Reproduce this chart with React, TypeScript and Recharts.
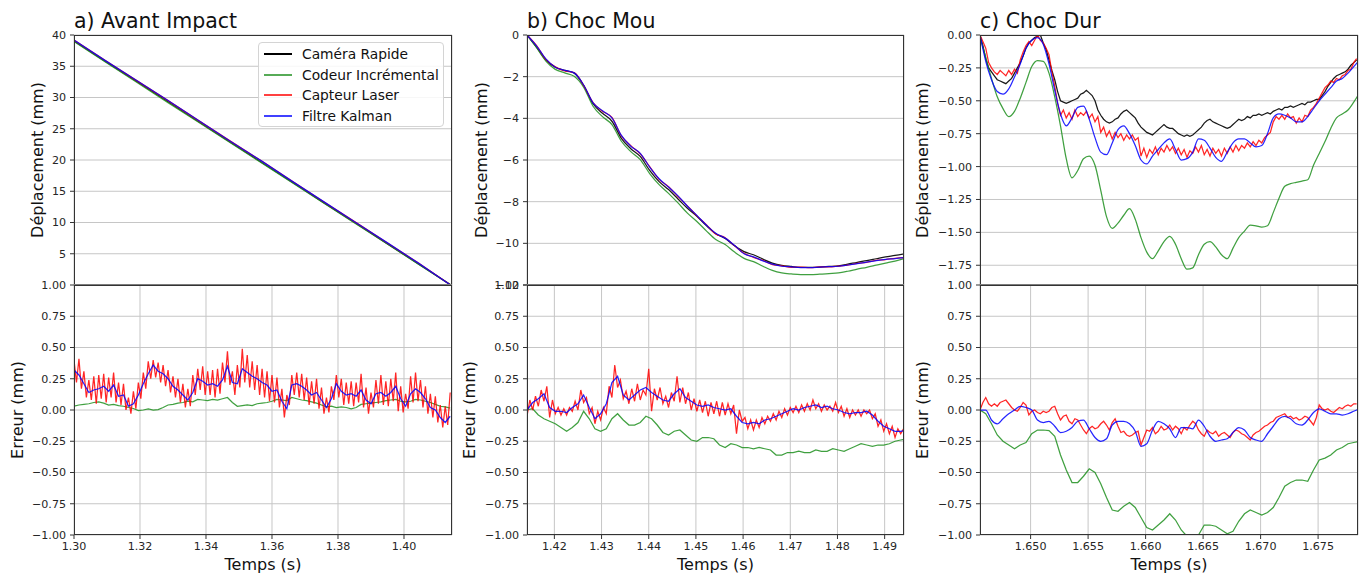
import React from 'react';
import { CartesianGrid, Line, LineChart, XAxis, YAxis } from 'recharts';

const FONT = '"DejaVu Sans", Verdana, sans-serif';

const NAMES = ['Caméra Rapide', 'Codeur Incrémental', 'Capteur Laser', 'Filtre Kalman'];
const COLORS = ['#000000', '#1f8f1f', '#ff0000', '#0000ff'];

// each series is sampled on a regular time grid: [start (s), step (s)]
const A_DEP_GRID = [1.3, 0.0095];
const A_DEP_CAM = [39.05, 35.78, 32.58, 29.33, 26.05, 22.8, 19.57, 16.31, 13.06, 9.83, 6.58, 3.33, 0.08];
const A_DEP_COD = [38.95, 35.7, 32.45, 29.18, 25.98, 22.74, 19.5, 16.26, 13.0, 9.78, 6.55, 3.3, 0.06];
const A_DEP_LAS = [39.2, 35.92, 32.7, 29.5, 26.22, 22.98, 19.8, 16.48, 13.2, 9.98, 6.72, 3.48, 0.05];
const A_DEP_KAL = [39.18, 35.9, 32.72, 29.52, 26.24, 22.96, 19.78, 16.46, 13.22, 9.96, 6.74, 3.46, 0.03];

const A_ERR_GRID = [1.3, 0.0015];
const A_ERR_LAS_GRID = [1.3, 0.00075];
const A_ERR_COD = [
  0.03, 0.04, 0.045, 0.05, 0.06, 0.065, 0.055, 0.04, 0.045, 0.035, 0.03, 0.02, 0.012, -0.005, 0.0, 0.008,
  0.0, 0.003, 0.02, 0.04, 0.045, 0.055, 0.06, 0.07, 0.065, 0.085, 0.08, 0.075, 0.085, 0.08, 0.09, 0.1,
  0.06, 0.03, 0.035, 0.04, 0.035, 0.05, 0.055, 0.06, 0.07, 0.085, 0.08, 0.075, 0.1, 0.09, 0.08, 0.075,
  0.065, 0.055, 0.04, 0.025, 0.03, 0.02, 0.025, 0.02, 0.01, 0.02, 0.045, 0.05, 0.055, 0.06, 0.065, 0.075,
  0.08, 0.085, 0.07, 0.065, 0.07, 0.085, 0.08, 0.07, 0.06, 0.045, 0.03, 0.025, 0.015,
];
const A_ERR_LAS = [
  0.4, 0.22, 0.41, 0.17, 0.31, 0.1, 0.24, 0.08, 0.27, 0.05, 0.28, 0.09, 0.29, 0.06, 0.26, 0.1, 0.3, 0.06,
  0.22, 0.04, 0.21, 0.0, 0.1, -0.03, 0.15, 0.01, 0.22, 0.09, 0.3, 0.17, 0.39, 0.25, 0.4, 0.26, 0.38, 0.22,
  0.36, 0.19, 0.32, 0.14, 0.27, 0.1, 0.25, 0.06, 0.21, 0.02, 0.17, 0.03, 0.28, 0.12, 0.33, 0.16, 0.35, 0.12,
  0.31, 0.12, 0.32, 0.1, 0.33, 0.13, 0.38, 0.22, 0.47, 0.2, 0.31, 0.12, 0.36, 0.18, 0.49, 0.22, 0.44, 0.18,
  0.39, 0.16, 0.36, 0.12, 0.33, 0.1, 0.31, 0.07, 0.28, 0.06, 0.26, 0.02, 0.17, -0.06, 0.12, 0.04, 0.28, 0.12,
  0.3, 0.1, 0.29, 0.08, 0.26, 0.04, 0.23, 0.05, 0.25, 0.01, 0.18, -0.03, 0.1, -0.02, 0.19, 0.08, 0.28, 0.1,
  0.25, 0.04, 0.22, 0.05, 0.23, 0.03, 0.22, 0.06, 0.29, 0.02, 0.18, -0.03, 0.14, 0.02, 0.24, 0.05, 0.28, 0.04,
  0.23, 0.03, 0.25, 0.07, 0.3, -0.01, 0.19, -0.02, 0.13, 0.01, 0.27, 0.06, 0.3, 0.07, 0.24, 0.02, 0.19, -0.03,
  0.13, -0.06, 0.11, -0.1, 0.04, -0.14, 0.03, -0.12, 0.14,
];
const A_ERR_KAL = [
  0.32, 0.28, 0.21, 0.14, 0.16, 0.17, 0.19, 0.15, 0.2, 0.11, 0.12, 0.03, 0.05, 0.12, 0.21, 0.29, 0.36, 0.31,
  0.29, 0.25, 0.19, 0.16, 0.12, 0.08, 0.14, 0.25, 0.23, 0.2, 0.21, 0.19, 0.24, 0.35, 0.22, 0.21, 0.33, 0.3,
  0.27, 0.25, 0.22, 0.2, 0.15, 0.16, 0.07, 0.01, 0.2, 0.21, 0.19, 0.16, 0.12, 0.14, 0.08, 0.02, 0.09, 0.21,
  0.15, 0.12, 0.13, 0.11, 0.16, 0.08, 0.05, 0.13, 0.14, 0.11, 0.14, 0.19, 0.09, 0.03, 0.13, 0.17, 0.14, 0.09,
  0.02, 0.0, -0.06, -0.1, -0.05,
];

const B_DEP_GRID = [1.4142, 0.002];
const B_DEP_CAM = [
  0, -0.58, -1.2, -1.55, -1.7, -1.83, -2.42, -3.3, -3.76, -4.14, -4.96, -5.46, -5.83, -6.5, -7.04, -7.42,
  -7.87, -8.32, -8.7, -9.15, -9.54, -9.77, -10.12, -10.4, -10.55, -10.76, -10.95, -11.06, -11.11, -11.15,
  -11.15, -11.14, -11.11, -11.08, -11.0, -10.91, -10.83, -10.74, -10.65, -10.58, -10.5,
];
const B_DEP_COD = [
  0, -0.6, -1.25, -1.65, -1.82, -1.98, -2.5, -3.42, -3.92, -4.3, -5.1, -5.6, -5.98, -6.65, -7.18, -7.6,
  -8.06, -8.55, -8.95, -9.4, -9.82, -10.06, -10.42, -10.72, -10.88, -11.1, -11.3, -11.42, -11.47, -11.5,
  -11.5, -11.48, -11.45, -11.42, -11.34, -11.24, -11.15, -11.05, -10.95, -10.85, -10.73,
];
const B_DEP_LAS = [
  0, -0.5, -1.17, -1.53, -1.72, -1.8, -2.42, -3.24, -3.66, -3.95, -4.84, -5.31, -5.7, -6.32, -6.93, -7.28,
  -7.75, -8.2, -8.68, -9.1, -9.55, -9.73, -10.12, -10.48, -10.67, -10.82, -11.02, -11.08, -11.15, -11.14,
  -11.17, -11.13, -11.13, -11.09, -11.05, -10.96, -10.91, -10.82, -10.78, -10.72, -10.69,
];
const B_DEP_KAL = [
  0, -0.52, -1.15, -1.55, -1.7, -1.82, -2.4, -3.26, -3.64, -3.98, -4.82, -5.34, -5.68, -6.34, -6.9, -7.3,
  -7.72, -8.22, -8.66, -9.12, -9.52, -9.75, -10.1, -10.5, -10.65, -10.84, -11.0, -11.1, -11.13, -11.16,
  -11.16, -11.14, -11.12, -11.1, -11.04, -10.97, -10.9, -10.83, -10.77, -10.73, -10.68,
];

const B_ERR_GRID = [1.4142, 0.0012];
const B_ERR_LAS_GRID = [1.4142, 0.0006];
const B_ERR_COD = [
  0.0, 0.01, -0.04, -0.07, -0.09, -0.11, -0.14, -0.17, -0.14, -0.1, -0.01, -0.07, -0.15, -0.17, -0.15, -0.07,
  -0.03, -0.08, -0.12, -0.12, -0.1, -0.05, -0.07, -0.12, -0.18, -0.2, -0.17, -0.16, -0.2, -0.24, -0.25, -0.22,
  -0.22, -0.23, -0.28, -0.3, -0.27, -0.28, -0.3, -0.3, -0.31, -0.3, -0.31, -0.32, -0.36, -0.36, -0.34, -0.34,
  -0.33, -0.34, -0.34, -0.32, -0.33, -0.33, -0.31, -0.32, -0.33, -0.31, -0.29, -0.27, -0.28, -0.29, -0.28,
  -0.28, -0.27, -0.25, -0.24, -0.23,
];
const B_ERR_LAS = [
  -0.05, 0.08, 0.0, 0.11, 0.03, 0.16, 0.07, 0.19, -0.06, 0.08, -0.03, 0.02, -0.04, 0.01, -0.04, 0.02, -0.01,
  0.07, 0.0, 0.16, 0.06, 0.1, -0.03, 0.02, -0.11, -0.01, -0.08, 0.02, -0.03, 0.19, 0.1, 0.36, 0.18, 0.24,
  0.09, 0.15, 0.05, 0.17, 0.07, 0.21, 0.08, 0.16, 0.12, 0.33, -0.01, 0.17, 0.08, 0.18, 0.05, 0.11, 0.02, 0.14,
  0.07, 0.27, 0.06, 0.18, 0.05, 0.14, 0.0, 0.09, -0.01, 0.08, -0.02, 0.07, -0.05, 0.06, -0.03, 0.07, -0.05,
  0.06, -0.04, 0.05, -0.03, 0.04, -0.19, 0.0, -0.09, -0.06, -0.15, -0.08, -0.16, -0.08, -0.14, -0.06, -0.11,
  -0.05, -0.09, -0.03, -0.08, -0.01, -0.06, 0.01, -0.04, 0.02, -0.02, 0.03, -0.02, 0.04, -0.01, 0.05, 0.0,
  0.08, 0.01, 0.05, -0.01, 0.04, 0.0, 0.03, -0.01, 0.06, -0.02, 0.03, -0.05, 0.01, -0.06, 0.0, -0.04, 0.0,
  -0.05, 0.0, -0.03, 0.0, -0.07, -0.03, -0.13, -0.08, -0.17, -0.11, -0.19, -0.13, -0.22, -0.15, -0.19, -0.15,
];
const B_ERR_KAL = [
  0.0, 0.06, 0.09, 0.13, 0.02, -0.01, -0.01, -0.02, 0.02, 0.05, 0.12, 0.02, -0.07, -0.03, 0.05, 0.22, 0.27,
  0.12, 0.08, 0.12, 0.16, 0.18, 0.14, 0.11, 0.08, 0.07, 0.13, 0.17, 0.1, 0.07, 0.04, 0.03, 0.04, 0.02, 0.01,
  0.0, 0.01, -0.05, -0.1, -0.11, -0.1, -0.11, -0.08, -0.07, -0.05, -0.03, -0.01, 0.01, 0.0, 0.02, 0.03, 0.04,
  0.02, 0.03, 0.01, 0.0, -0.02, -0.03, -0.02, -0.02, -0.01, -0.04, -0.09, -0.13, -0.15, -0.17, -0.17, -0.16,
];

const C_FINE_GRID = [1.6456, 0.00025];
const C_GRID = [1.6456, 0.0005];
const C_DEP_CAM = [
  0.0, -0.08, -0.18, -0.25, -0.28, -0.31, -0.34, -0.35, -0.36, -0.37, -0.35, -0.33, -0.29, -0.25, -0.21,
  -0.16, -0.1, -0.06, -0.04, -0.02, -0.01, 0.0, -0.06, -0.11, -0.19, -0.27, -0.34, -0.43, -0.5, -0.51, -0.52,
  -0.51, -0.5, -0.49, -0.48, -0.45, -0.44, -0.42, -0.44, -0.46, -0.5, -0.57, -0.61, -0.64, -0.66, -0.67,
  -0.66, -0.64, -0.63, -0.6, -0.58, -0.57, -0.59, -0.61, -0.63, -0.67, -0.7, -0.72, -0.74, -0.75, -0.76,
  -0.74, -0.72, -0.7, -0.68, -0.7, -0.71, -0.71, -0.73, -0.75, -0.76, -0.77, -0.76, -0.77, -0.76, -0.74,
  -0.72, -0.7, -0.67, -0.65, -0.64, -0.66, -0.67, -0.68, -0.69, -0.7, -0.71, -0.7, -0.68, -0.66, -0.64,
  -0.65, -0.64, -0.62, -0.63, -0.61, -0.61, -0.6, -0.61, -0.6, -0.59, -0.6, -0.58, -0.57, -0.56, -0.57,
  -0.55, -0.55, -0.54, -0.55, -0.54, -0.53, -0.52, -0.53, -0.51, -0.51, -0.5, -0.49, -0.49, -0.46, -0.43,
  -0.39, -0.36, -0.33, -0.31, -0.3, -0.29, -0.28, -0.26, -0.23, -0.21, -0.19,
];
const C_DEP_COD = [
  -0.015, -0.17, -0.33, -0.47, -0.56, -0.62, -0.58, -0.48, -0.36, -0.24, -0.195, -0.2, -0.29, -0.47, -0.69,
  -0.94, -1.085, -1.03, -0.94, -0.92, -0.99, -1.18, -1.38, -1.47, -1.43, -1.37, -1.32, -1.4, -1.54, -1.65,
  -1.7, -1.64, -1.57, -1.53, -1.59, -1.7, -1.78, -1.77, -1.67, -1.59, -1.57, -1.61, -1.67, -1.7, -1.62,
  -1.54, -1.49, -1.445, -1.45, -1.46, -1.45, -1.35, -1.24, -1.15, -1.13, -1.12, -1.11, -1.1, -0.99, -0.9,
  -0.81, -0.71, -0.63, -0.6, -0.57, -0.51, -0.44,
];
const C_DEP_LAS = [
  0.0, -0.05, -0.1, -0.21, -0.25, -0.28, -0.3, -0.27, -0.29, -0.31, -0.27, -0.3, -0.26, -0.29, -0.19, -0.13,
  -0.08, -0.05, -0.08, -0.04, 0.0, -0.04, -0.06, -0.1, -0.15, -0.28, -0.39, -0.52, -0.61, -0.57, -0.63,
  -0.59, -0.64, -0.57, -0.62, -0.59, -0.61, -0.58, -0.63, -0.6, -0.66, -0.62, -0.74, -0.7, -0.77, -0.73,
  -0.79, -0.74, -0.78, -0.75, -0.8, -0.76, -0.79, -0.76, -0.8, -0.78, -0.92, -0.86, -0.93, -0.87, -0.9,
  -0.85, -0.91, -0.86, -0.89, -0.84, -0.88, -0.85, -0.9, -0.86, -0.91, -0.87, -0.93, -0.88, -0.9, -0.85,
  -0.89, -0.84, -0.91, -0.87, -0.92, -0.86, -0.9, -0.87, -0.92, -0.86, -0.9, -0.85, -0.89, -0.84, -0.88,
  -0.84, -0.86, -0.82, -0.85, -0.81, -0.84, -0.8, -0.82, -0.78, -0.76, -0.74, -0.66, -0.62, -0.64, -0.61,
  -0.64, -0.6, -0.63, -0.62, -0.67, -0.63, -0.66, -0.61, -0.62, -0.57, -0.55, -0.52, -0.48, -0.44, -0.4,
  -0.38, -0.35, -0.36, -0.33, -0.34, -0.31, -0.3, -0.27, -0.26, -0.21, -0.18,
];
const C_DEP_KAL = [
  0.0, -0.2, -0.34, -0.43, -0.45, -0.41, -0.32, -0.22, -0.1, -0.04, -0.02, -0.07, -0.22, -0.42, -0.6, -0.69,
  -0.63, -0.55, -0.54, -0.64, -0.78, -0.89, -0.91, -0.82, -0.72, -0.69, -0.75, -0.84, -0.95, -0.98, -0.92,
  -0.87, -0.82, -0.79, -0.87, -0.95, -0.94, -0.89, -0.79, -0.8, -0.86, -0.93, -0.96, -0.89, -0.82, -0.79,
  -0.79, -0.82, -0.85, -0.84, -0.75, -0.63, -0.6, -0.61, -0.63, -0.66, -0.66, -0.62, -0.56, -0.5, -0.45,
  -0.4, -0.35, -0.33, -0.29, -0.24, -0.19,
];

const C_ERR_COD = [
  0.0, -0.03, -0.11, -0.2, -0.25, -0.28, -0.31, -0.28, -0.26, -0.19, -0.16, -0.16, -0.165, -0.21, -0.36,
  -0.48, -0.58, -0.58, -0.53, -0.47, -0.5, -0.59, -0.7, -0.8, -0.81, -0.77, -0.74, -0.78, -0.86, -0.94,
  -0.96, -0.92, -0.88, -0.83, -0.88, -0.96, -1.01, -1.03, -1.0, -0.92, -0.92, -0.93, -0.96, -0.99, -0.97,
  -0.89, -0.83, -0.8, -0.82, -0.84, -0.82, -0.78, -0.7, -0.61, -0.58, -0.56, -0.56, -0.57, -0.48, -0.4,
  -0.385, -0.36, -0.32, -0.3, -0.27, -0.26, -0.25,
];
const C_ERR_LAS = [
  0.0, 0.06, 0.1, 0.05, 0.03, 0.05, 0.03, 0.06, 0.07, 0.08, 0.05, 0.02, 0.0, -0.01, 0.02, 0.06, 0.04, -0.04,
  -0.01, 0.0, -0.02, -0.03, -0.01, -0.02, -0.01, 0.02, 0.03, -0.03, -0.08, -0.05, -0.04, -0.09, -0.11, -0.07,
  -0.08, -0.12, -0.16, -0.19, -0.15, -0.13, -0.15, -0.14, -0.11, -0.09, -0.12, -0.16, -0.1, -0.07, -0.13,
  -0.18, -0.17, -0.2, -0.21, -0.2, -0.18, -0.17, -0.28, -0.22, -0.16, -0.17, -0.14, -0.19, -0.17, -0.13,
  -0.16, -0.15, -0.12, -0.16, -0.13, -0.15, -0.19, -0.14, -0.16, -0.12, -0.09, -0.11, -0.16, -0.19, -0.21,
  -0.16, -0.18, -0.19, -0.17, -0.21, -0.19, -0.18, -0.2, -0.22, -0.18, -0.16, -0.17, -0.19, -0.2, -0.22,
  -0.24, -0.2, -0.18, -0.17, -0.15, -0.13, -0.12, -0.1, -0.09, -0.06, -0.05, -0.04, -0.03, -0.06, -0.05,
  -0.07, -0.06, -0.08, -0.07, -0.05, -0.06, -0.09, -0.12, -0.06, 0.04, 0.01, 0.0, 0.01, -0.01, -0.02, 0.0,
  0.02, 0.01, 0.03, 0.04, 0.03, 0.05, 0.05,
];
const C_ERR_KAL = [
  0.0, 0.0, -0.08, -0.11, -0.07, -0.03, 0.0, 0.03, 0.02, 0.0, -0.08, -0.1, -0.09, -0.13, -0.18, -0.17, -0.14,
  -0.09, -0.08, -0.15, -0.22, -0.25, -0.23, -0.12, -0.09, -0.09, -0.11, -0.17, -0.29, -0.27, -0.16, -0.09,
  -0.11, -0.15, -0.22, -0.14, -0.14, -0.15, -0.08, -0.13, -0.21, -0.25, -0.24, -0.23, -0.18, -0.14, -0.16,
  -0.22, -0.24, -0.25, -0.19, -0.13, -0.07, -0.05, -0.07, -0.11, -0.12, -0.08, -0.02, 0.01, -0.01, -0.03,
  -0.03, -0.04, -0.03, -0.01, 0.01,
];

const A_X_TICKS = [1.3, 1.32, 1.34, 1.36, 1.38, 1.4];
const B_X_TICKS = [1.42, 1.43, 1.44, 1.45, 1.46, 1.47, 1.48, 1.49];
const C_X_TICKS = [1.65, 1.655, 1.66, 1.665, 1.67, 1.675];
const A_DEP_TICKS = [5, 10, 15, 20, 25, 30, 35, 40];
const B_DEP_TICKS = [-12, -10, -8, -6, -4, -2, 0];
const C_DEP_TICKS = [-1.75, -1.5, -1.25, -1, -0.75, -0.5, -0.25, 0];
const ERR_TICKS = [-1, -0.75, -0.5, -0.25, 0, 0.25, 0.5, 0.75, 1];

const fmt = (d: number) => (v: number) => (v < 0 ? '\u2212' : '') + Math.abs(v).toFixed(d);

type Series = { grid: number[]; values: number[]; color: string; curve?: 'linear' | 'monotone' };

const rows = (s: Series) => s.values.map((v, i) => ({ t: s.grid[0] + i * s.grid[1], v }));

interface PlotProps {
  left: number;
  top: number;
  width: number;
  height: number;
  xDomain: number[];
  xTicks: number[];
  xDigits: number;
  showX: boolean;
  yDomain: number[];
  yTicks: number[];
  yDigits: number;
  series: Series[];
}

const TICK = { fontSize: 11.1, fill: '#262626', fontFamily: FONT };

function Plot(p: PlotProps) {
  const xH = p.showX ? 26 : 1;
  const chartH = 10 + p.height + (p.showX ? xH : 10);
  return (
    <div style={{ position: 'absolute', left: p.left - 70, top: p.top - 10 }}>
      <LineChart
        width={p.width + 72}
        height={chartH}
        margin={{ top: 10, right: 2, left: 0, bottom: p.showX ? 0 : 9 }}
      >
        <CartesianGrid stroke="#c6c6c6" strokeWidth={1} />
        <XAxis
          dataKey="t"
          type="number"
          domain={p.xDomain}
          ticks={p.xTicks}
          allowDataOverflow
          interval={0}
          height={xH}
          axisLine={false}
          tick={p.showX ? TICK : false}
          tickLine={p.showX ? { stroke: '#333' } : false}
          tickSize={4}
          tickMargin={3}
          tickFormatter={fmt(p.xDigits)}
        />
        <YAxis
          type="number"
          width={70}
          domain={p.yDomain}
          ticks={p.yTicks}
          allowDataOverflow
          interval={0}
          axisLine={false}
          tick={TICK}
          tickLine={{ stroke: '#333' }}
          tickSize={4}
          tickMargin={4}
          tickFormatter={fmt(p.yDigits)}
        />
        {p.series.map((s, i) => (
          <Line
            key={i}
            data={rows(s)}
            dataKey="v"
            type={s.curve ?? 'linear'}
            stroke={s.color}
            strokeWidth={1.25}
            strokeOpacity={s.color === '#000000' ? 0.9 : 0.85}
            dot={false}
            activeDot={false}
            isAnimationActive={false}
          />
        ))}
      </LineChart>
      <div
        style={{
          position: 'absolute',
          left: 70,
          top: 10,
          width: p.width,
          height: p.height,
          border: '1px solid #333',
          boxSizing: 'border-box',
          pointerEvents: 'none',
        }}
      />
    </div>
  );
}

const [K, G, R, B] = COLORS;

const PANELS = [
  {
    title: 'a) Avant Impact',
    left: 74,
    right: 452,
    xDomain: [1.3, 1.41455],
    xTicks: A_X_TICKS,
    xDigits: 2,
    depDomain: [0, 40],
    depTicks: A_DEP_TICKS,
    depDigits: 0,
    depLabelX: 37.5,
    errLabelX: 17.5,
    dep: [
      { grid: A_DEP_GRID, values: A_DEP_CAM, color: K },
      { grid: A_DEP_GRID, values: A_DEP_COD, color: G },
      { grid: A_DEP_GRID, values: A_DEP_LAS, color: R },
      { grid: A_DEP_GRID, values: A_DEP_KAL, color: B },
    ],
    err: [
      { grid: A_ERR_GRID, values: A_ERR_COD, color: G },
      { grid: A_ERR_LAS_GRID, values: A_ERR_LAS, color: R },
      { grid: A_ERR_GRID, values: A_ERR_KAL, color: B },
    ],
  },
  {
    title: 'b) Choc Mou',
    left: 527,
    right: 904,
    xDomain: [1.4142, 1.4941],
    xTicks: B_X_TICKS,
    xDigits: 2,
    depDomain: [-12, 0],
    depTicks: B_DEP_TICKS,
    depDigits: 0,
    depLabelX: 482,
    errLabelX: 470,
    dep: [
      { grid: B_DEP_GRID, values: B_DEP_CAM, color: K, curve: 'monotone' },
      { grid: B_DEP_GRID, values: B_DEP_COD, color: G, curve: 'monotone' },
      { grid: B_DEP_GRID, values: B_DEP_LAS, color: R, curve: 'monotone' },
      { grid: B_DEP_GRID, values: B_DEP_KAL, color: B, curve: 'monotone' },
    ],
    err: [
      { grid: B_ERR_GRID, values: B_ERR_COD, color: G },
      { grid: B_ERR_LAS_GRID, values: B_ERR_LAS, color: R },
      { grid: B_ERR_GRID, values: B_ERR_KAL, color: B },
    ],
  },
  {
    title: 'c) Choc Dur',
    left: 980,
    right: 1358,
    xDomain: [1.6456, 1.67847],
    xTicks: C_X_TICKS,
    xDigits: 3,
    depDomain: [-1.9, 0],
    depTicks: C_DEP_TICKS,
    depDigits: 2,
    depLabelX: 923,
    errLabelX: 923,
    dep: [
      { grid: C_FINE_GRID, values: C_DEP_CAM, color: K },
      { grid: C_GRID, values: C_DEP_COD, color: G, curve: 'monotone' },
      { grid: C_FINE_GRID, values: C_DEP_LAS, color: R },
      { grid: C_GRID, values: C_DEP_KAL, color: B, curve: 'monotone' },
    ],
    err: [
      { grid: C_GRID, values: C_ERR_COD, color: G },
      { grid: C_FINE_GRID, values: C_ERR_LAS, color: R },
      { grid: C_GRID, values: C_ERR_KAL, color: B, curve: 'monotone' },
    ],
  },
];

const TOP = 35;
const MID = 285;
const BOTTOM = 535;

function VLabel({ text, x, y }: { text: string; x: number; y: number }) {
  return (
    <div
      style={{
        position: 'absolute',
        left: x,
        top: y,
        transform: 'translate(-50%, -50%) rotate(-90deg)',
        whiteSpace: 'nowrap',
        fontSize: 16,
        lineHeight: '16px',
        fontFamily: FONT,
        color: '#111',
      }}
    >
      {text}
    </div>
  );
}

function LegendBox() {
  return (
    <div
      style={{
        position: 'absolute',
        left: 258,
        top: 42,
        width: 186,
        height: 85,
        border: '1px solid #d4d4d4',
        borderRadius: 4,
        background: 'rgba(255,255,255,0.85)',
        boxSizing: 'border-box',
        fontFamily: FONT,
        fontSize: 13.8,
      }}
    >
      {NAMES.map((name, i) => (
        <div key={name} style={{ position: 'absolute', left: 0, top: 1 + i * 20.5, height: 20, width: 186 }}>
          <div
            style={{
              position: 'absolute',
              left: 5,
              top: 9,
              width: 28,
              height: 2,
              background: COLORS[i],
              opacity: i === 0 ? 1 : 0.75,
            }}
          />
          <div style={{ position: 'absolute', left: 43, top: 1, lineHeight: '18px', color: '#111', whiteSpace: 'nowrap' }}>
            {name}
          </div>
        </div>
      ))}
    </div>
  );
}

export default function App() {
  return (
    <div style={{ position: 'absolute', left: 0, top: 0, width: 1362, height: 576, background: '#fff', overflow: 'hidden' }}>
      {PANELS.map((pn) => {
        const w = pn.right - pn.left;
        return (
          <React.Fragment key={pn.title}>
            <div
              style={{
                position: 'absolute',
                left: pn.left,
                top: 11,
                fontSize: 20.5,
                lineHeight: 1,
                fontFamily: FONT,
                color: '#111',
                whiteSpace: 'nowrap',
              }}
            >
              {pn.title}
            </div>
            <Plot
              left={pn.left}
              top={TOP}
              width={w}
              height={MID - TOP}
              xDomain={pn.xDomain}
              xTicks={pn.xTicks}
              xDigits={pn.xDigits}
              showX={false}
              yDomain={pn.depDomain}
              yTicks={pn.depTicks}
              yDigits={pn.depDigits}
              series={pn.dep as Series[]}
            />
            <Plot
              left={pn.left}
              top={MID}
              width={w}
              height={BOTTOM - MID}
              xDomain={pn.xDomain}
              xTicks={pn.xTicks}
              xDigits={pn.xDigits}
              showX
              yDomain={[-1, 1]}
              yTicks={ERR_TICKS}
              yDigits={2}
              series={pn.err as Series[]}
            />
            <VLabel text="Déplacement (mm)" x={pn.depLabelX} y={160} />
            <VLabel text="Erreur (mm)" x={pn.errLabelX} y={410} />
            <div
              style={{
                position: 'absolute',
                left: (pn.left + pn.right) / 2,
                top: 565,
                transform: 'translate(-50%, -50%)',
                fontSize: 16,
                lineHeight: '16px',
                fontFamily: FONT,
                color: '#111',
                whiteSpace: 'nowrap',
              }}
            >
              Temps (s)
            </div>
          </React.Fragment>
        );
      })}
      <LegendBox />
    </div>
  );
}
